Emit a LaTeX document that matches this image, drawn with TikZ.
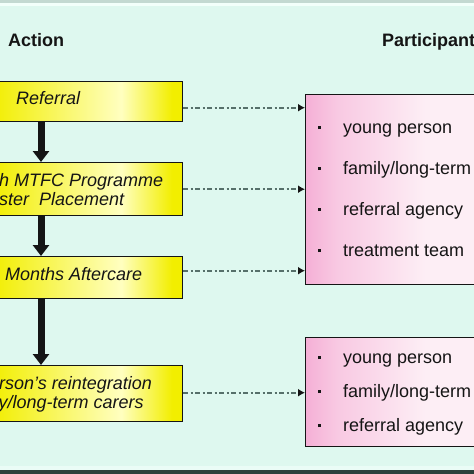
\documentclass[tikz,border=0pt]{standalone}
\usepackage{fontspec}
\setmainfont{Liberation Sans}
\usepackage{tikz}
\usetikzlibrary{arrows.meta, positioning, calc}
\definecolor{bgmint}{HTML}{DEF8EF}
\definecolor{bandgrey}{HTML}{C3D9D1}
\definecolor{bandlight}{HTML}{F2FFFA}
\definecolor{banddark}{HTML}{2C413C}
\definecolor{ybase}{HTML}{F2EE00}
\definecolor{ylight}{HTML}{FFFFC0}
\definecolor{pbase}{HTML}{F5B0D6}
\definecolor{plight}{HTML}{FDEEF5}
\definecolor{linkgrey}{HTML}{56706A}
\definecolor{darktext}{HTML}{151515}
\pgfdeclarehorizontalshading{ybar}{100bp}{color(0bp)=(ybase); color(47bp)=(ybase); color(66bp)=(ylight); color(73.5bp)=(ybase); color(100bp)=(ybase)}
\pgfdeclarehorizontalshading{pbar}{100bp}{color(0bp)=(pbase); color(25bp)=(pbase); color(31bp)=(pbase!60!plight); color(48bp)=(plight); color(65bp)=(plight); color(75bp)=(pbase); color(100bp)=(pbase)}

\begin{document}
\begin{tikzpicture}[x=1pt, y=-1pt,
    ybox/.style={shading=ybar, draw=darktext, line width=1.4pt, minimum width=340pt, anchor=north east, inner sep=0pt},
    pbox/.style={shading=pbar, draw=darktext, line width=1.4pt, minimum width=260pt, anchor=north west, inner sep=0pt},
    boxtext/.style={font=\fontsize{18}{20}\selectfont\itshape, text=darktext, anchor=base west, inner sep=0pt},
    head/.style={font=\fontsize{18}{20}\selectfont\bfseries, text=darktext, anchor=base west, inner sep=0pt},
    item/.style={font=\fontsize{18}{20}\selectfont, text=darktext, anchor=base west, inner sep=0pt},
    flowarr/.style={-{Triangle[length=11pt, width=16pt]}, line width=7pt, darktext},
    linkarr/.style={-{Latex[length=7pt, width=8pt, color=darktext]}, line width=1.6pt, linkgrey, dash pattern=on 5pt off 2.5pt on 2pt off 2.5pt}
]
    \useasboundingbox (0,0) rectangle (474,474);
    \clip (0,0) rectangle (474,474);
    % background and frame bands
    \fill[bgmint] (0,0) rectangle (474,474);
    \fill[bandgrey] (0,0) rectangle (474,2.5);
    \fill[bandlight] (0,2.5) rectangle (474,5.5);
    \fill[bandlight!60!bgmint] (0,466) rectangle (474,470);
    \fill[banddark] (0,470) rectangle (474,474);

    % column headings
    \node[head] (acthead) at (8,46) {Action};
    \node[head] (parthead) at (382,46) {Participant};

    % action boxes
    \node[ybox, minimum height=40pt] (refer) at (183,81) {};
    \node[ybox, minimum height=53pt] (place) at (183,162) {};
    \node[ybox, minimum height=42pt] (after) at (183,256) {};
    \node[ybox, minimum height=56pt] (reint) at (183,365) {};
    \node[boxtext] (refert) at (16,104) {Referral};
    \node[boxtext] (placeta) at (-1,186) {h MTFC Programme};
    \node[boxtext] (placetb) at (-1,205) {ster\ \ Placement};
    \node[boxtext] (aftert) at (5,280) {Months Aftercare};
    \node[boxtext] (reintta) at (-1,389) {rson's reintegration};
    \node[boxtext] (reinttb) at (-1.5,408) {y/long-term carers};

    % participant boxes
    \node[pbox, minimum height=190pt] (part1) at (305,94) {};
    \node[pbox, minimum height=109pt] (part2) at (305,337) {};
    \foreach \y/\who [count=\i] in {133/young person, 174/family\slash long-term, 215/referral agency, 256/treatment team} {
        \node[item] (pa\i) at (317.5,\y) {\rule[4pt]{3.5pt}{3.5pt}\hspace{22pt}\who};
    }
    \foreach \y/\who [count=\i] in {363/young person, 397/family\slash long-term, 431/referral agency} {
        \node[item] (pb\i) at (317.5,\y) {\rule[4pt]{3.5pt}{3.5pt}\hspace{22pt}\who};
    }

    % flow arrows
    \coordinate (spine) at (41,0);
    \draw[flowarr] (refer.south -| spine) -- (place.north -| spine);
    \draw[flowarr] (place.south -| spine) -- (after.north -| spine);
    \draw[flowarr] (after.south -| spine) -- (reint.north -| spine);

    % links to participants
    \coordinate (l1) at ([yshift=-6pt]refer.east);
    \coordinate (l2) at (place.east);
    \coordinate (l3) at ([yshift=7pt]after.east);
    \coordinate (l4) at ([yshift=1pt]reint.east);
    \draw[linkarr] (l1) -- (l1 -| part1.west);
    \draw[linkarr] (l2) -- (l2 -| part1.west);
    \draw[linkarr] (l3) -- (l3 -| part1.west);
    \draw[linkarr] (l4) -- (l4 -| part2.west);
\end{tikzpicture}
\end{document}
